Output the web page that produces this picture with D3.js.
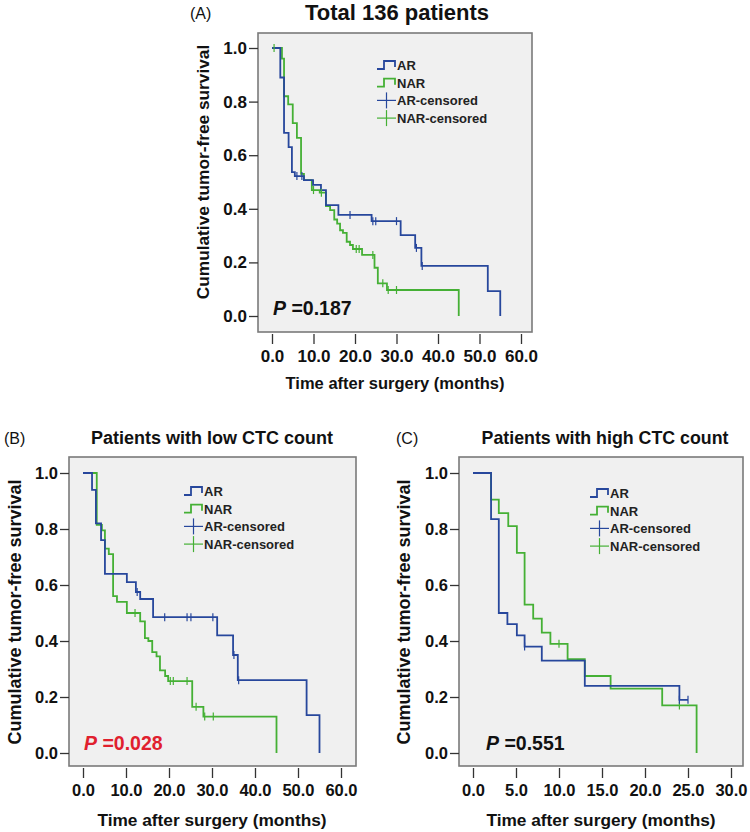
<!DOCTYPE html>
<html><head><meta charset="utf-8">
<script src="https://cdn.jsdelivr.net/npm/d3@7/dist/d3.min.js"></script>
<style>
html,body{margin:0;padding:0;background:#fff;}
svg text{font-family:"Liberation Sans",Arial,sans-serif;}
</style></head>
<body>
<svg id="chart" width="750" height="832"></svg>
<script>
// ---------- DATA (time in months, cumulative survival) ----------
const legendLabels = ["AR", "NAR", "AR-censored", "NAR-censored"];
const yTicks = [0.0, 0.2, 0.4, 0.6, 0.8, 1.0];
const xTicksA = [0, 10, 20, 30, 40, 50, 60];
const xTicksB = [0, 10, 20, 30, 40, 50, 60];
const xTicksC = [0, 5, 10, 15, 20, 25, 30];

// Panel A : Total 136 patients
const A_AR = [[0,1],[2.0,0.89],[2.9,0.683],[4.0,0.63],[4.8,0.537],[5.5,0.522],[7.7,0.507],[9.9,0.489],[11.8,0.47],[13.0,0.414],[16.0,0.377],[24.0,0.354],[31.0,0.302],[34.5,0.254],[36.0,0.187],[52.0,0.093],[55.0,0]];
const A_AR_cens = [[6.0,0.522],[7.2,0.522],[18.8,0.377],[24.3,0.354],[25.0,0.354],[30.0,0.354],[34.8,0.254],[36.2,0.187]];
const A_NAR = [[0,1],[2.4,0.96],[2.9,0.82],[3.9,0.79],[5.0,0.72],[6.0,0.665],[7.0,0.53],[7.7,0.507],[9.6,0.47],[11.5,0.46],[13.0,0.41],[14.0,0.395],[15.0,0.36],[15.7,0.345],[16.4,0.32],[17.1,0.31],[18.0,0.277],[18.8,0.265],[19.5,0.25],[21.7,0.228],[24.7,0.18],[25.5,0.122],[27.7,0.097],[45.0,0]];
const A_NAR_cens = [[0.5,1.0],[10.0,0.47],[11.9,0.46],[20.3,0.25],[21.0,0.25],[24.3,0.228],[26.7,0.122],[28.0,0.097],[30.0,0.097]];

// Panel B : low CTC count
const B_AR = [[0,1],[2.1,0.94],[3.0,0.82],[4.2,0.76],[5.1,0.64],[10.2,0.61],[12.3,0.575],[13.3,0.55],[16.3,0.485],[31.2,0.42],[34.9,0.35],[36.0,0.26],[52.0,0.135],[55.0,0]];
const B_AR_cens = [[12.6,0.575],[19.0,0.485],[24.2,0.485],[25.1,0.485],[30.2,0.485],[35.1,0.35],[36.2,0.26]];
const B_NAR = [[0,1],[3.2,0.815],[4.4,0.795],[5.1,0.73],[6.0,0.71],[7.0,0.56],[7.9,0.54],[10.2,0.50],[13.3,0.47],[14.4,0.41],[15.2,0.40],[16.1,0.36],[17.1,0.345],[17.9,0.295],[19.1,0.275],[19.8,0.257],[25.4,0.165],[28.0,0.13],[45.0,0]];
const B_NAR_cens = [[12.1,0.50],[20.3,0.257],[21.0,0.257],[24.2,0.257],[26.3,0.165],[28.3,0.13],[30.3,0.13]];

// Panel C : high CTC count
const C_AR = [[0,1],[2.1,0.835],[3.0,0.50],[4.0,0.46],[5.1,0.42],[6.0,0.38],[8.0,0.33],[13.0,0.24],[24.0,0.19],[25.0,0.19]];
const C_AR_cens = [[6.0,0.38],[24.0,0.19],[25.0,0.19]];
const C_NAR = [[0,1],[2.1,0.905],[3.0,0.857],[4.1,0.81],[5.1,0.715],[6.0,0.53],[7.0,0.48],[8.0,0.43],[9.0,0.39],[11.0,0.335],[13.0,0.275],[16.0,0.23],[22.0,0.17],[26.0,0]];
const C_NAR_cens = [[10.0,0.39],[24.0,0.17]];

// ---------- STYLE / LAYOUT ----------
const BLUE = "#27479c", GREEN = "#45b035", FRAME = "#7a7a7a", BG = "#f0f0f0";
const svg = d3.select("#chart");

function drawPanel(cfg) {
  const g = svg.append("g");
  const x = d3.scaleLinear().domain(cfg.xDomain).range(cfg.xRange);
  const y = d3.scaleLinear().domain([0, 1]).range(cfg.yRange);
  const f = cfg.frame; // [left, top, right, bottom]

  g.append("rect").attr("x", f[0]).attr("y", f[1]).attr("width", f[2]-f[0]).attr("height", f[3]-f[1])
    .attr("fill", BG).attr("stroke", FRAME).attr("stroke-width", 1.6);

  const yAxis = d3.axisLeft(y).tickValues(yTicks).tickFormat(d3.format(".1f")).tickSize(9).tickPadding(2);
  const ya = g.append("g").attr("transform", `translate(${f[0]},0)`).call(yAxis);
  ya.select(".domain").remove();
  ya.selectAll(".tick line").attr("stroke", "#333").attr("stroke-width", 1.3);
  ya.selectAll(".tick text").attr("font-size", cfg.tickFont).attr("font-weight", "bold").attr("fill", "#111");

  const xAxis = d3.axisBottom(x).tickValues(cfg.xTicks).tickFormat(d3.format(".1f")).tickSize(10).tickPadding(6);
  const xa = g.append("g").attr("transform", `translate(0,${f[3]+2})`).call(xAxis);
  xa.select(".domain").remove();
  xa.selectAll(".tick line").attr("stroke", "#333").attr("stroke-width", 1.3);
  xa.selectAll(".tick text").attr("font-size", cfg.tickFont).attr("font-weight", "bold").attr("fill", "#111");

  const line = d3.line().x(d => x(d[0])).y(d => y(d[1])).curve(d3.curveStepAfter);
  [[cfg.nar, GREEN], [cfg.ar, BLUE]].forEach(([data, col]) => {
    g.append("path").datum(data).attr("d", line).attr("fill", "none")
      .attr("stroke", col).attr("stroke-width", 1.8);
  });
  [[cfg.narC, GREEN], [cfg.arC, BLUE]].forEach(([data, col]) => {
    g.selectAll(null).data(data).enter().append("line")
      .attr("x1", d => x(d[0])).attr("x2", d => x(d[0]))
      .attr("y1", d => y(d[1]) - 4).attr("y2", d => y(d[1]) + 4)
      .attr("stroke", col).attr("stroke-width", 1.2);
  });

  const L = cfg.legend; // [x, y0, dy]
  legendLabels.forEach((lab, i) => {
    const cy = L[1] + i * L[2], x0 = L[0];
    const col = i % 2 === 0 ? BLUE : GREEN;
    if (i < 2) {
      g.append("path").attr("d", `M${x0},${cy+4}H${x0+7}V${cy-4}H${x0+18}V${cy+2}`)
        .attr("fill", "none").attr("stroke", col).attr("stroke-width", 1.8);
    } else {
      g.append("line").attr("x1", x0).attr("x2", x0+19).attr("y1", cy).attr("y2", cy).attr("stroke", col).attr("stroke-width", 1.2);
      g.append("line").attr("x1", x0+9.5).attr("x2", x0+9.5).attr("y1", cy-8).attr("y2", cy+8).attr("stroke", col).attr("stroke-width", 1.2);
    }
    g.append("text").attr("x", x0 + 20).attr("y", cy + 5).attr("font-size", 13).attr("font-weight", "bold")
      .attr("fill", "#222").text(lab);
  });

  const pt = g.append("text").attr("x", cfg.p[0]).attr("y", cfg.p[1]).attr("font-size", 19.5)
    .attr("font-weight", "bold").attr("fill", cfg.pColor);
  pt.append("tspan").attr("font-style", "italic").text("P");
  pt.append("tspan").text(" =" + cfg.pValue);

  g.append("text").attr("x", cfg.title[0]).attr("y", cfg.title[1]).attr("text-anchor", "middle")
    .attr("font-size", cfg.titleFont).attr("font-weight", "bold").attr("fill", "#111").text(cfg.titleText);
  g.append("text").attr("x", cfg.tag[0]).attr("y", cfg.tag[1]).attr("font-size", 16).attr("fill", "#111").text(cfg.tagText);
  g.append("text").attr("x", cfg.xTitle[0]).attr("y", cfg.xTitle[1]).attr("text-anchor", "middle")
    .attr("font-size", cfg.xTitleFont).attr("font-weight", "bold").attr("fill", "#111").text("Time after surgery (months)");
  g.append("text").attr("transform", `translate(${cfg.yTitle[0]},${cfg.yTitle[1]}) rotate(-90)`)
    .attr("text-anchor", "middle").attr("font-size", cfg.yTitleFont).attr("font-weight", "bold")
    .attr("fill", "#111").text("Cumulative tumor-free survival");
}

drawPanel({
  xDomain: [0, 60], xRange: [272, 521], yRange: [316, 48], frame: [258, 33, 532, 332],
  xTicks: xTicksA, tickFont: 17, ar: A_AR, arC: A_AR_cens, nar: A_NAR, narC: A_NAR_cens,
  legend: [377, 65, 17.7], p: [273, 315], pValue: "0.187", pColor: "#111",
  title: [397, 20], titleFont: 22, titleText: "Total 136 patients", tag: [190, 19], tagText: "(A)",
  xTitle: [395, 389], xTitleFont: 16.5, yTitle: [209, 172], yTitleFont: 17.3
});
drawPanel({
  xDomain: [0, 60], xRange: [83, 341], yRange: [753, 473], frame: [69, 457, 356, 766],
  xTicks: xTicksB, tickFont: 16.5, ar: B_AR, arC: B_AR_cens, nar: B_NAR, narC: B_NAR_cens,
  legend: [184, 491, 17.7], p: [84, 750], pValue: "0.028", pColor: "#e0202e",
  title: [212, 444], titleFont: 18, titleText: "Patients with low CTC count", tag: [4, 444], tagText: "(B)",
  xTitle: [212, 826], xTitleFont: 17.3, yTitle: [21, 612], yTitleFont: 18
});
drawPanel({
  xDomain: [0, 30], xRange: [473, 731], yRange: [753, 473], frame: [459, 457, 743, 766],
  xTicks: xTicksC, tickFont: 16.5, ar: C_AR, arC: C_AR_cens, nar: C_NAR, narC: C_NAR_cens,
  legend: [590, 493, 17.7], p: [486, 750], pValue: "0.551", pColor: "#111",
  title: [605, 444], titleFont: 17.8, titleText: "Patients with high CTC count", tag: [396, 444], tagText: "(C)",
  xTitle: [601, 826], xTitleFont: 17.3, yTitle: [410, 612], yTitleFont: 18
});
</script>
</body></html>
